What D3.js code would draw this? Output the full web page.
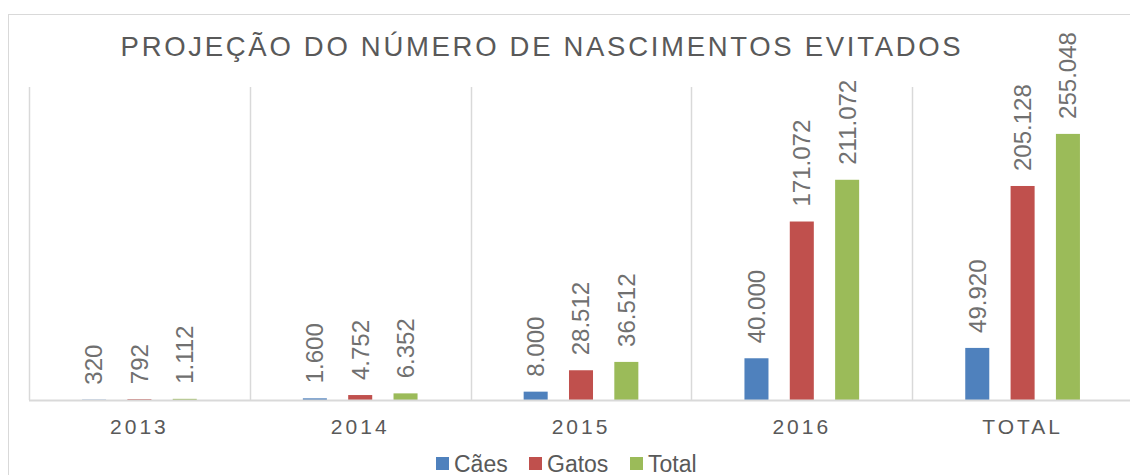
<!DOCTYPE html>
<html>
<head>
<meta charset="utf-8">
<script src="https://cdn.jsdelivr.net/npm/d3@7"></script>
<style>
  body { margin: 0; background: #fff; }
  svg { display: block; font-family: "Liberation Sans", Arial, sans-serif; }
</style>
</head>
<body>
<div id="chart"></div>
<script>
var categories = ["2013", "2014", "2015", "2016", "TOTAL"];
var seriesNames = ["Cães", "Gatos", "Total"];
var caes = [320, 1600, 8000, 40000, 49920];
var gatos = [792, 4752, 28512, 171072, 205128];
var total = [1112, 6352, 36512, 211072, 255048];
var colors = ["#4f81bd", "#c0504d", "#9bbb59"];

var w = 1130;
var h = 475;
var plotLeft = 29;
var plotRight = 1133;
var plotTop = 87;
var baseY = 400;
var textColor = "#595959";
var labelColor = "#707070";
var gridColor = "#d9d9d9";

var values = [caes, gatos, total];

var ptBr = d3.formatLocale({decimal: ",", thousands: ".", grouping: [3], currency: ["R$", ""]});
var fmt = ptBr.format(",d");

var svg = d3.select("#chart")
            .append("svg")
            .attr("width", w)
            .attr("height", h);

// chart border
svg.append("rect")
   .attr("x", 8.5)
   .attr("y", 14.5)
   .attr("width", 1140)
   .attr("height", 500)
   .attr("fill", "none")
   .attr("stroke", gridColor)
   .attr("stroke-width", 1);

var x = d3.scaleBand()
          .domain(categories)
          .range([plotLeft, plotRight]);

var sub = d3.scaleBand()
            .domain(seriesNames)
            .range([-68, 68])
            .paddingInner(0.47)
            .paddingOuter(0.235);

var y = d3.scaleLinear()
          .domain([0, 300000])
          .range([baseY, plotTop]);

// vertical separators between categories
var bounds = categories.map(function(c) { return x(c); });
bounds.push(plotRight);
svg.selectAll(".sep")
   .data(bounds)
   .enter()
   .append("line")
   .attr("class", "sep")
   .attr("x1", function(d) { return Math.round(d) + 0.5; })
   .attr("x2", function(d) { return Math.round(d) + 0.5; })
   .attr("y1", plotTop)
   .attr("y2", baseY)
   .attr("stroke", gridColor)
   .attr("stroke-width", 1.5);

// bars + labels
seriesNames.forEach(function(s, si) {
   var g = svg.append("g");
   var rows = categories.map(function(c, ci) { return {cat: c, v: values[si][ci]}; });

   g.selectAll("rect")
    .data(rows)
    .enter()
    .append("rect")
    .attr("x", function(d) { return x(d.cat) + x.bandwidth() / 2 + sub(s); })
    .attr("y", function(d) { return y(d.v); })
    .attr("width", sub.bandwidth())
    .attr("height", function(d) { return baseY - y(d.v); })
    .attr("fill", colors[si]);

   g.selectAll("text")
    .data(rows)
    .enter()
    .append("text")
    .attr("transform", function(d) {
       var cx = x(d.cat) + x.bandwidth() / 2 + sub(s) + sub.bandwidth() / 2;
       return "translate(" + cx + "," + (y(d.v) - 15) + ") rotate(-90)";
    })
    .attr("dy", "0.35em")
    .attr("font-size", 24)
    .attr("fill", labelColor)
    .text(function(d) { return fmt(d.v); });
});

// baseline
svg.append("line")
   .attr("x1", plotLeft)
   .attr("x2", plotRight)
   .attr("y1", baseY + 0.5)
   .attr("y2", baseY + 0.5)
   .attr("stroke", gridColor)
   .attr("stroke-width", 2);

// category axis
var xAxis = svg.append("g")
   .attr("transform", "translate(0," + baseY + ")")
   .call(d3.axisBottom(x).tickSize(0).tickPadding(0));
xAxis.select(".domain").remove();
xAxis.selectAll("text")
   .attr("y", 34)
   .attr("dy", 0)
   .attr("font-size", 21)
   .attr("letter-spacing", "3px")
   .attr("font-family", "Liberation Sans, Arial, sans-serif")
   .attr("fill", textColor);

// title
svg.append("text")
   .attr("x", 542)
   .attr("y", 56)
   .attr("text-anchor", "middle")
   .attr("font-size", 27.5)
   .attr("letter-spacing", "2.7px")
   .attr("fill", textColor)
   .text("PROJEÇÃO DO NÚMERO DE NASCIMENTOS EVITADOS");

// legend
var legendX = [436, 529, 630];
var legend = svg.selectAll(".leg")
   .data(seriesNames)
   .enter()
   .append("g")
   .attr("class", "leg")
   .attr("transform", function(d, i) { return "translate(" + legendX[i] + ",457)"; });

legend.append("rect")
   .attr("width", 13)
   .attr("height", 13)
   .attr("fill", function(d, i) { return colors[i]; });

legend.append("text")
   .attr("x", 18)
   .attr("y", 15)
   .attr("font-size", 23)
   .attr("fill", textColor)
   .text(function(d) { return d; });
</script>
</body>
</html>
